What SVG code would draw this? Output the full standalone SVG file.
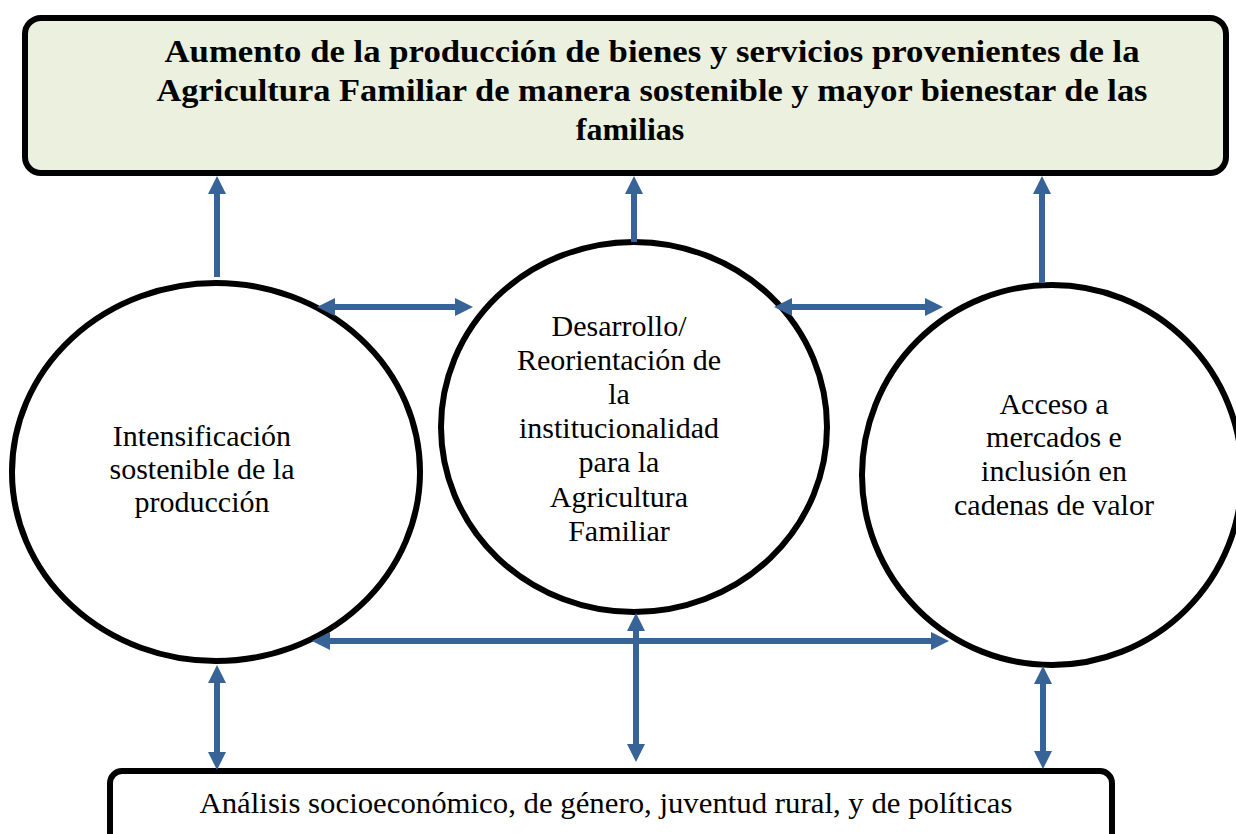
<svg xmlns="http://www.w3.org/2000/svg" width="1236" height="834" viewBox="0 0 1236 834">
<style>
.box{stroke:#000;stroke-width:6}
.circ{fill:#fff;stroke:#000;stroke-width:6}
.t{font-family:"Liberation Serif","DejaVu Serif",serif;font-size:30px;fill:#000;text-anchor:middle}
.tb{font-family:"Liberation Serif","DejaVu Serif",serif;font-size:32px;font-weight:bold;fill:#000;text-anchor:middle}
.ar{stroke:#386396;stroke-width:6;fill:none;marker-end:url(#ah)}
.ar2{stroke:#386396;stroke-width:6;fill:none;marker-end:url(#ah);marker-start:url(#ah)}
</style>
<defs>
<marker id="ah" markerUnits="userSpaceOnUse" markerWidth="18" markerHeight="18" viewBox="0 0 18 18" refX="8" refY="9" orient="auto-start-reverse">
<path d="M0,0 L18,9 L0,18 z" fill="#386396"/>
</marker>
</defs>
<rect width="1236" height="834" fill="#fff"/>
<g id="top">
<rect class="box" x="25" y="18" width="1201" height="155" rx="16" fill="#ebf1de"/>
<text class="tb" x="652" y="62" textLength="975" lengthAdjust="spacingAndGlyphs">Aumento de la producción de bienes y servicios provenientes de la</text>
<text class="tb" x="652" y="101" textLength="991" lengthAdjust="spacingAndGlyphs">Agricultura Familiar de manera sostenible y mayor bienestar de las</text>
<text class="tb" x="630" y="140">familias</text>
</g>
<g id="left">
<ellipse class="circ" cx="216" cy="472" rx="204" ry="189"/>
<text class="t" x="202" y="446">Intensificación</text>
<text class="t" x="202" y="479">sostenible de la</text>
<text class="t" x="202" y="512">producción</text>
</g>
<g id="middle">
<ellipse class="circ" cx="634" cy="427" rx="193" ry="185"/>
<text class="t" x="619" y="336">Desarrollo/</text>
<text class="t" x="619" y="370">Reorientación de</text>
<text class="t" x="619" y="404">la</text>
<text class="t" x="619" y="438">institucionalidad</text>
<text class="t" x="619" y="472">para la</text>
<text class="t" x="619" y="507">Agricultura</text>
<text class="t" x="619" y="541">Familiar</text>
</g>
<g id="right">
<ellipse class="circ" cx="1052" cy="475" rx="190" ry="190"/>
<text class="t" x="1054" y="414">Acceso a</text>
<text class="t" x="1054" y="447">mercados e</text>
<text class="t" x="1054" y="481">inclusión en</text>
<text class="t" x="1054" y="515">cadenas de valor</text>
</g>
<g id="bottom">
<rect class="box" x="110" y="771" width="1002" height="90" rx="12" fill="#fff"/>
<text class="t" x="606" y="813" style="font-size:29px" textLength="813" lengthAdjust="spacingAndGlyphs">Análisis socioeconómico, de género, juventud rural, y de políticas</text>
</g>
<g id="connectors">
<line class="ar" x1="217" y1="277" x2="217" y2="186"/>
<line class="ar" x1="634" y1="242" x2="634" y2="186"/>
<line class="ar" x1="1042" y1="283" x2="1042" y2="186"/>
<line class="ar2" x1="327" y1="307" x2="463" y2="307"/>
<line class="ar2" x1="784" y1="307" x2="933" y2="307"/>
<line class="ar2" x1="322" y1="641" x2="939" y2="641"/>
<line class="ar2" x1="217" y1="675" x2="217" y2="760"/>
<line class="ar2" x1="636" y1="623" x2="636" y2="752"/>
<line class="ar2" x1="1043" y1="676" x2="1043" y2="759"/>
</g>
</svg>
